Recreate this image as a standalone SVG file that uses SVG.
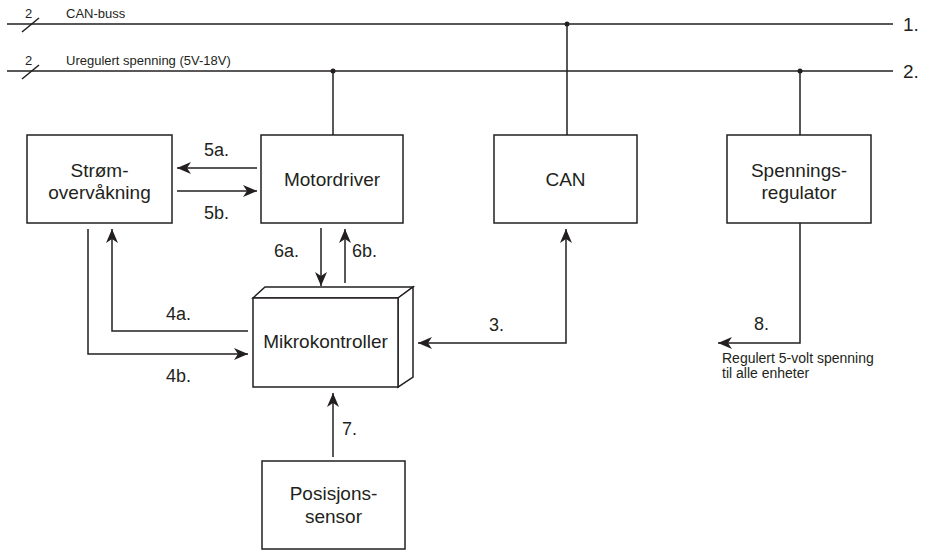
<svg xmlns="http://www.w3.org/2000/svg" width="925" height="551" viewBox="0 0 925 551">
<defs>
<style>
.box{fill:#fff;stroke:#231f20;stroke-width:1.5}
.ln{fill:none;stroke:#231f20;stroke-width:1.5}
.t{font-family:"Liberation Sans",Arial,sans-serif;fill:#231f20}
.bt{font-size:19px;text-anchor:middle}
.lb{font-size:18px}
.sm{font-size:13px}
.dot{fill:#231f20}
</style>
<marker id="ah" markerUnits="userSpaceOnUse" markerWidth="14" markerHeight="12" refX="14" refY="6" orient="auto-start-reverse" viewBox="0 0 14 12">
<path d="M0,0 L14,6 L0,12 L4,6 z" fill="#231f20"/>
</marker>
</defs>
<rect width="925" height="551" fill="#fff"/>

<g id="busses">
<line class="ln" x1="7" y1="24" x2="893" y2="24"/>
<line class="ln" x1="7" y1="71" x2="893" y2="71"/>
<line class="ln" x1="22" y1="32" x2="39" y2="18"/>
<line class="ln" x1="22" y1="79" x2="39" y2="65"/>
<text class="t sm" x="25" y="18">2</text>
<text class="t sm" x="25" y="65">2</text>
<text class="t sm" x="66" y="18">CAN-buss</text>
<text class="t sm" x="66" y="65">Uregulert spenning (5V-18V)</text>
<text class="t" style="font-size:19px" x="903" y="31">1.</text>
<text class="t" style="font-size:19px" x="903" y="78">2.</text>
<circle class="dot" cx="567" cy="24" r="2.5"/>
<circle class="dot" cx="333" cy="71" r="2.5"/>
<circle class="dot" cx="800" cy="71" r="2.5"/>
</g>

<g id="connectors">
<line class="ln" x1="333" y1="71" x2="333" y2="135"/>
<line class="ln" x1="567" y1="24" x2="567" y2="135"/>
<line class="ln" x1="800" y1="71" x2="800" y2="135"/>
<line class="ln" x1="257" y1="168" x2="177" y2="168" marker-end="url(#ah)"/>
<line class="ln" x1="177" y1="191" x2="257" y2="191" marker-end="url(#ah)"/>
<line class="ln" x1="321" y1="228" x2="321" y2="286" marker-end="url(#ah)"/>
<line class="ln" x1="345" y1="283" x2="345" y2="229" marker-end="url(#ah)"/>
<polyline class="ln" points="248,331 112,331 112,229" marker-end="url(#ah)"/>
<polyline class="ln" points="88,229 88,354 248,354" marker-end="url(#ah)"/>
<polyline class="ln" points="418,343 566,343 566,229" marker-start="url(#ah)" marker-end="url(#ah)"/>
<line class="ln" x1="333" y1="457" x2="333" y2="393" marker-end="url(#ah)"/>
<polyline class="ln" points="800,223 800,343 718,343" marker-end="url(#ah)"/>
<text class="t lb" x="204" y="156">5a.</text>
<text class="t lb" x="204" y="219">5b.</text>
<text class="t lb" x="274" y="257">6a.</text>
<text class="t lb" x="352" y="257">6b.</text>
<text class="t lb" x="166" y="320">4a.</text>
<text class="t lb" x="166" y="382">4b.</text>
<text class="t lb" x="489" y="331">3.</text>
<text class="t lb" x="342" y="435">7.</text>
<text class="t lb" x="754" y="330">8.</text>
<text class="t" style="font-size:14px" x="722" y="363">Regulert 5-volt spenning</text>
<text class="t" style="font-size:14px" x="722" y="378">til alle enheter</text>
</g>

<g id="stromovervakning">
<rect class="box" x="27" y="135" width="145" height="88"/>
<text class="t bt" x="99.5" y="177">Strøm-</text>
<text class="t bt" x="99.5" y="199">overvåkning</text>
</g>

<g id="motordriver">
<rect class="box" x="261" y="135" width="142" height="88"/>
<text class="t bt" x="332" y="186">Motordriver</text>
</g>

<g id="can">
<rect class="box" x="494" y="135" width="143" height="88"/>
<text class="t bt" x="565.5" y="186">CAN</text>
</g>

<g id="spenningsregulator">
<rect class="box" x="727" y="135" width="144" height="88"/>
<text class="t bt" x="799" y="177">Spennings-</text>
<text class="t bt" x="799" y="199">regulator</text>
</g>

<g id="mikrokontroller">
<polygon class="box" points="253,298 265,287 413,287 398,298"/>
<polygon class="box" points="398,298 413,287 413,377 398,387"/>
<rect class="box" x="253" y="298" width="145" height="89"/>
<text class="t bt" x="325.5" y="348">Mikrokontroller</text>
</g>

<g id="posisjonssensor">
<rect class="box" x="262" y="461" width="143" height="88"/>
<text class="t bt" x="333.5" y="500">Posisjons-</text>
<text class="t bt" x="333.5" y="523">sensor</text>
</g>
</svg>
